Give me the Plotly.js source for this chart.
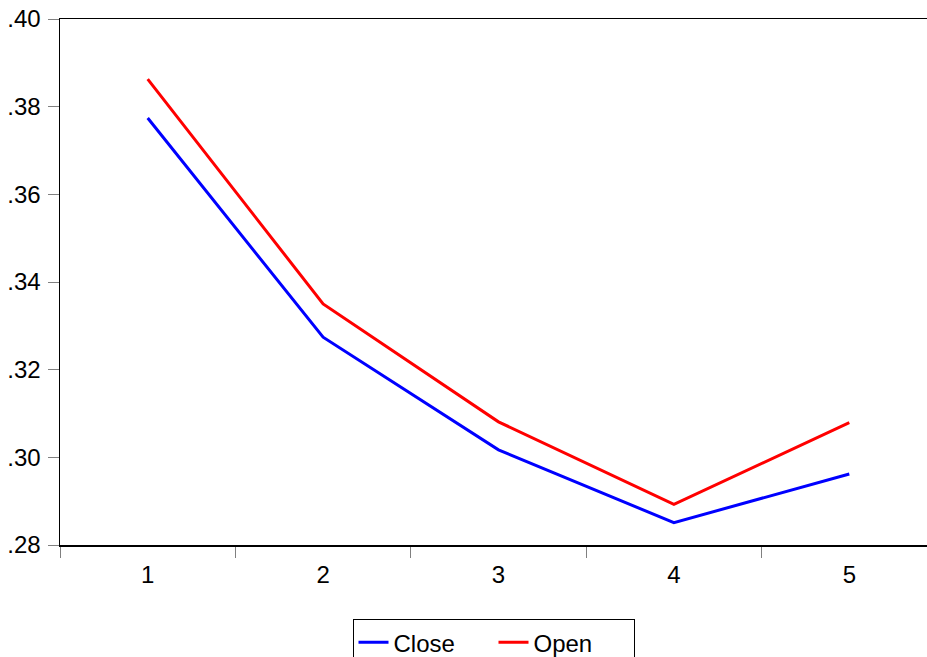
<!DOCTYPE html>
<html>
<head>
<meta charset="utf-8">
<script src="https://cdn.plot.ly/plotly-3.0.1.min.js"></script>
<style>html,body{margin:0;padding:0;background:#fff;overflow:hidden}#chart{width:927px;height:657px}</style>
</head>
<body>
<div id="chart"></div>
<script>
var categories = [1, 2, 3, 4, 5];
var closeVals = [0.3774, 0.3274, 0.3017, 0.2851, 0.2962];
var openVals = [0.3863, 0.3350, 0.3081, 0.2893, 0.3079];
var yTickVals = [0.28, 0.30, 0.32, 0.34, 0.36, 0.38, 0.40];
var yTickText = ['.28', '.30', '.32', '.34', '.36', '.38', '.40'];

var fontFam = 'Arial, "Liberation Sans", sans-serif';
var traces = [
  {x: categories, y: closeVals, name: 'Close', type: 'scatter', mode: 'lines',
   line: {color: '#0000ff', width: 3}},
  {x: categories, y: openVals, name: 'Open', type: 'scatter', mode: 'lines',
   line: {color: '#ff0000', width: 3}}
];
var layout = {
  width: 927, height: 657,
  margin: {l: 60, r: 0, t: 19, b: 112, autoexpand: false},
  paper_bgcolor: '#fff', plot_bgcolor: '#fff',
  font: {family: fontFam, size: 24, color: '#000'},
  showlegend: true,
  legend: {orientation: 'h', x: 0.5, xanchor: 'center', y: -0.141, yanchor: 'top',
           entrywidth: 95, entrywidthmode: 'pixels',
           bordercolor: '#000', borderwidth: 1, font: {size: 24, family: fontFam}},
  xaxis: {
    range: [0.5, 5.443], showgrid: false, zeroline: false, automargin: false,
    showline: true, linecolor: '#000', linewidth: 1.5, mirror: true,
    tickmode: 'array', tickvals: categories, ticktext: categories.map(String),
    ticks: '', ticklen: 0, ticklabelstandoff: 8,
    tickfont: {size: 24, family: fontFam},
    minor: {tick0: 0.5, dtick: 1, ticks: 'outside', ticklen: 11, tickcolor: '#808080', tickwidth: 1, showgrid: false}
  },
  yaxis: {
    range: [0.28, 0.40], showgrid: false, zeroline: false, automargin: false,
    showline: true, linecolor: '#000', linewidth: 1.5,
    tickmode: 'array', tickvals: yTickVals, ticktext: yTickText,
    ticks: 'outside', ticklen: 11, tickcolor: '#808080', tickwidth: 1,
    ticklabelstandoff: 2,
    tickfont: {size: 24, family: fontFam}
  }
};
Plotly.newPlot('chart', traces, layout, {displayModeBar: false, staticPlot: true});
</script>
</body>
</html>
